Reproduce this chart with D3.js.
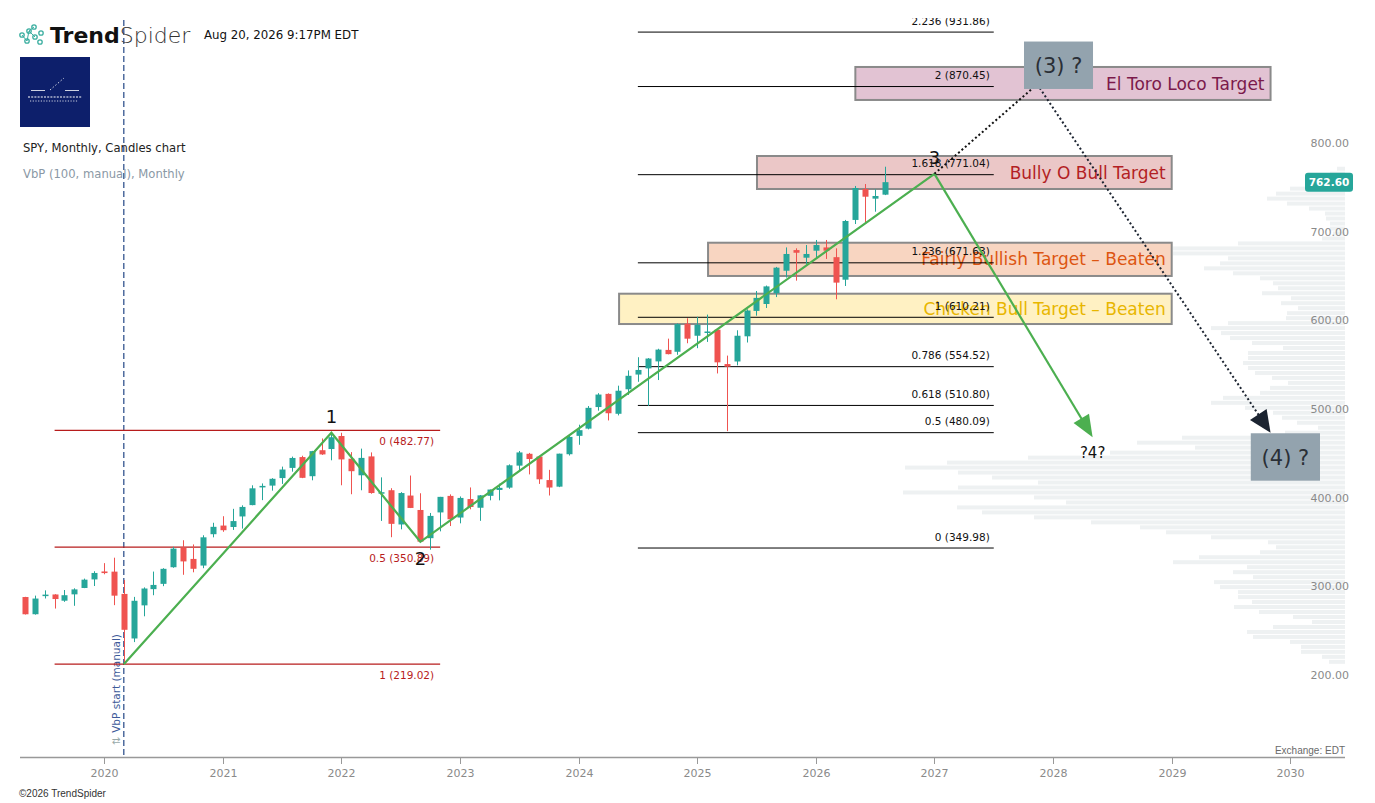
<!DOCTYPE html>
<html><head><meta charset="utf-8">
<script src="https://cdn.jsdelivr.net/npm/d3@7"></script>
<style>html,body{margin:0;padding:0;background:#fff;}svg{display:block;font-family:"DejaVu Sans",sans-serif;}</style>
</head><body>
<svg id="c" width="1375" height="803"></svg>
<script>
// ---------------- DATA ----------------
const months = [
"2019-05","2019-06","2019-07","2019-08","2019-09","2019-10","2019-11","2019-12",
"2020-01","2020-02","2020-03","2020-04","2020-05","2020-06","2020-07","2020-08","2020-09","2020-10","2020-11","2020-12",
"2021-01","2021-02","2021-03","2021-04","2021-05","2021-06","2021-07","2021-08","2021-09","2021-10","2021-11","2021-12",
"2022-01","2022-02","2022-03","2022-04","2022-05","2022-06","2022-07","2022-08","2022-09","2022-10","2022-11","2022-12",
"2023-01","2023-02","2023-03","2023-04","2023-05","2023-06","2023-07","2023-08","2023-09","2023-10","2023-11","2023-12",
"2024-01","2024-02","2024-03","2024-04","2024-05","2024-06","2024-07","2024-08","2024-09","2024-10","2024-11","2024-12",
"2025-01","2025-02","2025-03","2025-04","2025-05","2025-06","2025-07","2025-08","2025-09","2025-10","2025-11","2025-12",
"2026-01","2026-02","2026-03","2026-04","2026-05","2026-06","2026-07","2026-08"];
const open = [
294.72,275.31,296.68,297.60,290.57,297.74,304.92,314.59,
323.54,323.35,298.21,247.98,285.31,303.62,309.57,328.32,350.35,337.69,330.20,365.57,
375.31,373.72,385.59,398.40,419.43,420.37,428.87,440.34,452.56,430.98,460.30,461.64,
476.30,450.68,432.03,453.31,412.07,415.17,376.56,409.15,392.89,361.08,390.14,408.77,
384.37,405.21,395.41,408.85,415.47,418.09,442.92,456.27,453.17,426.62,419.20,455.77,
476.49,484.63,508.98,523.83,501.38,529.02,545.63,552.57,560.47,573.40,571.32,602.97,
589.39,592.67,596.18,557.45,560.37,588.76,617.38,625.20,637.30,662.70,686.00,677.40,
685.30,689.00,678.00,652.60,720.00,754.90,744.00,748.50];
const high = [
294.95,296.31,302.23,297.90,302.63,304.55,315.48,323.80,
332.95,339.08,313.84,294.88,305.59,323.41,327.23,351.30,358.75,354.02,364.38,378.46,
385.85,394.17,398.12,420.72,422.82,428.78,441.80,453.07,454.05,459.56,473.54,478.81,
479.98,458.12,462.07,457.83,429.66,417.44,413.03,431.73,411.73,389.52,407.68,410.49,
408.16,418.31,409.70,415.94,422.58,444.30,459.44,457.25,453.67,438.14,456.40,477.55,
489.08,510.13,524.61,524.38,533.07,550.28,565.16,564.20,574.71,586.12,603.35,609.07,
610.78,613.23,597.34,567.00,595.54,619.22,639.84,646.00,667.00,689.00,688.00,691.70,
697.40,697.40,688.00,720.00,758.30,760.50,754.50,780.00];
const low = [
275.00,274.86,293.08,281.72,289.27,284.82,304.74,307.13,
320.36,285.54,218.26,243.90,272.99,296.74,306.96,327.73,319.80,322.60,327.24,362.03,
368.27,370.38,371.88,398.18,404.00,414.70,422.28,436.10,428.78,426.36,455.00,448.92,
420.76,410.64,415.12,411.21,380.54,362.17,371.04,395.04,357.04,348.11,368.79,374.77,
377.83,393.64,380.65,403.78,403.74,416.79,437.06,433.01,422.29,409.21,418.65,454.31,
466.43,483.80,504.91,493.86,499.55,522.60,537.45,510.27,539.44,568.40,567.89,580.91,
575.35,582.44,546.87,481.80,556.04,581.77,612.00,620.70,633.00,655.00,651.50,670.00,
676.70,676.00,630.50,645.50,715.40,716.90,729.30,748.00];
const close = [
275.27,293.00,297.43,292.45,296.77,303.33,314.31,321.86,
321.73,296.26,257.75,290.48,304.32,308.36,326.52,349.31,334.89,326.54,362.06,373.88,
370.07,380.36,396.33,417.30,420.04,428.06,438.51,451.56,429.14,459.25,455.56,474.96,
449.91,436.63,451.64,412.00,412.93,377.25,411.99,395.18,357.18,386.21,407.68,382.43,
406.48,396.26,409.39,415.93,417.85,443.28,457.79,450.35,427.48,418.20,456.40,475.31,
482.88,508.08,523.07,501.98,527.37,544.22,550.81,563.68,573.76,568.64,602.55,586.08,
601.82,594.18,559.39,554.54,589.39,617.85,632.08,645.05,666.18,681.60,683.00,681.60,
691.70,685.30,649.30,718.80,756.00,746.20,747.00,762.60];

// Volume-by-price (100 bins, bottom -> top)
const vbpLow = 218.26, vbpHigh = 780.0;
const vbpVolume = [
16,23,44,44,55,92,98,72,33,52,86,111,93,107,107,125,131,92,112,98,
172,146,85,69,77,134,179,205,254,311,363,388,279,311,442,387,307,353,387,440,
398,317,235,150,208,163,60,27,48,63,72,100,134,122,85,75,57,73,90,97,
102,97,97,62,93,115,124,134,117,59,58,47,64,54,83,67,72,85,112,141,
125,117,172,172,107,23,12,15,15,19,20,36,58,78,69,55,40,30,15,8];

// Axis ticks
const yearTicks = ["2020-01","2021-01","2022-01","2023-01","2024-01","2025-01","2026-01","2027-01","2028-01","2029-01","2030-01"];
const yearLabels = ["2020","2021","2022","2023","2024","2025","2026","2027","2028","2029","2030"];
const priceTicks = [200,300,400,500,600,700,800];

// Fibonacci (black, right)
const fibLevels = ["0","0.5","0.618","0.786","1","1.236","1.618","2","2.236"];
const fibPrices = [349.98,480.09,510.80,554.52,610.21,671.63,771.04,870.45,931.86];
const fibFrom = "2024-07", fibTo = "2027-07";
// Fibonacci (red, left)
const redFibLevels = ["0","0.5","1"];
const redFibPrices = [482.77,350.89,219.02];
const redFibFrom = "2019-08", redFibTo = "2022-11";

// Target zones
const targetNames = ["El Toro Loco Target","Bully O Bull Target","Fairly Bullish Target – Beaten","Chicken Bull Target – Beaten"];
const targetStart = [76.0,66.05,61.1,52.1];
const targetEnd = [118.0,108.0,108.0,108.0];
const targetTop = [892.5,792.1,694.3,636.8];
const targetBottom = [855.3,754.9,656.8,602.6];

// Elliott wave path (month index, price)
const waveM = [2,23,32,84];
const waveP = [219.02,480,357,772];
const waveNames = ["","1","2","3"];
const waveArrowEnd = [100,475];
const altPathM = [84,94.4,118];
const altPathP = [772,873,480];
const qBoxes = [{t:"(3) ?",m0:93.06,m1:100.04,p0:921.2,p1:867.7},{t:"(4) ?",m0:116.0,m1:123.0,p0:479.4,p1:425.9}];
const q4Label = {t:"?4?",m:100,p:458};
const vbpStart = "2020-03";
const lastPrice = 762.60;

// ---------------- STYLES ----------------
const C = {up:"#26a69a", down:"#ef5350", vbp:"#eef1f2", wave:"#4caf50", red:"#b71c1c",
  axis:"#999", tick:"#8a8a8a", boxStroke:"#8a8a8a",
  tFill:["#e2c3d3","#ebc7c7","#f8d5c1","#fff1c3"], tText:["#7b1a4b","#b31f24","#dd5511","#e8b600"]};

// ---------------- CHART ----------------
const mIdx = s => { const [yy,mo]=s.split("-").map(Number); return (yy-2020)*12+mo-1; };
const x = d3.scaleLinear().domain([-8.5,125.53]).range([20,1345]);
const y = d3.scaleLinear().domain([114.3,968.04]).range([757,0]);
const svg = d3.select("#c");

svg.append("defs").append("clipPath").attr("id","plot").append("rect")
  .attr("x",0).attr("y",18).attr("width",1375).attr("height",757-18);
const plot = svg.append("g").attr("clip-path","url(#plot)");

// Volume profile
const step = (vbpHigh-vbpLow)/vbpVolume.length;
const vx = d3.scaleLinear().domain([0,442]).range([0,442]);
plot.append("g").selectAll("rect").data(vbpVolume).join("rect")
  .attr("x",d=>1345-vx(d)).attr("width",d=>vx(d))
  .attr("y",(d,i)=>y(vbpLow+(i+1)*step))
  .attr("height",(d,i)=>Math.max(1,y(vbpLow+i*step)-y(vbpLow+(i+1)*step)-1))
  .attr("fill",C.vbp);

// VbP start line
plot.append("line").attr("x1",x(mIdx(vbpStart))).attr("x2",x(mIdx(vbpStart)))
  .attr("y1",20).attr("y2",757).attr("stroke","#34558f").attr("stroke-width",1.3).attr("stroke-dasharray","6,3");
const vt = plot.append("text").attr("transform",`translate(${x(mIdx(vbpStart))-4},745) rotate(-90)`)
  .attr("font-size",10.5).attr("fill","#3d5a99");
vt.append("tspan").attr("fill","#9aa").text("⇅ ");
vt.append("tspan").text("VbP start (manual)");

// Target zones
const tg = plot.append("g");
targetNames.forEach((n,i)=>{
  const x0=x(targetStart[i]), x1=x(targetEnd[i]), y0=y(targetTop[i]), y1=y(targetBottom[i]);
  tg.append("rect").attr("x",x0).attr("y",y0).attr("width",x1-x0).attr("height",y1-y0)
    .attr("fill",C.tFill[i]).attr("stroke",C.boxStroke).attr("stroke-width",2);
  tg.append("text").attr("x",x1-6).attr("y",(y0+y1)/2).attr("dy","0.36em")
    .attr("text-anchor","end").attr("font-size",17).attr("fill",C.tText[i]).text(n);
});

// Fib lines (black)
const fg = plot.append("g");
fibPrices.forEach((p,i)=>{
  fg.append("line").attr("x1",x(mIdx(fibFrom))).attr("x2",x(mIdx(fibTo))).attr("y1",y(p)).attr("y2",y(p))
    .attr("stroke","#000").attr("stroke-width",1);
  fg.append("text").attr("x",x(mIdx(fibTo))-4).attr("y",y(p)-7.5).attr("text-anchor","end")
    .attr("font-size",10.5).attr("fill","#111").text(`${fibLevels[i]} (${p.toFixed(2)})`);
});
// Fib lines (red)
redFibPrices.forEach((p,i)=>{
  fg.append("line").attr("x1",x(mIdx(redFibFrom))).attr("x2",x(mIdx(redFibTo))).attr("y1",y(p)).attr("y2",y(p))
    .attr("stroke",C.red).attr("stroke-width",1.2);
  fg.append("text").attr("x",x(mIdx(redFibTo))-6).attr("y",y(p)+15).attr("text-anchor","end")
    .attr("font-size",10.5).attr("fill",C.red).text(`${redFibLevels[i]} (${p.toFixed(2)})`);
});

// Candles
const cg = plot.append("g");
const candles = months.map((m,i)=>({m:mIdx(m),o:open[i],h:high[i],l:low[i],c:close[i]}));
cg.selectAll("line").data(candles).join("line")
  .attr("x1",d=>Math.round(x(d.m))+0.5).attr("x2",d=>Math.round(x(d.m))+0.5)
  .attr("y1",d=>y(d.h)).attr("y2",d=>y(d.l))
  .attr("stroke",d=>d.c>=d.o?C.up:C.down).attr("stroke-width",1);
cg.selectAll("rect").data(candles).join("rect")
  .attr("x",d=>Math.round(x(d.m))-2.5).attr("width",6)
  .attr("y",d=>y(Math.max(d.o,d.c)))
  .attr("height",d=>Math.max(1.5,Math.abs(y(d.o)-y(d.c))))
  .attr("fill",d=>d.c>=d.o?C.up:C.down);

// Wave path
const line = d3.line().x(d=>x(d[0])).y(d=>y(d[1]));
const wpts = waveM.map((m,i)=>[m,waveP[i]]);
plot.append("path").attr("d",line(wpts)).attr("fill","none").attr("stroke",C.wave).attr("stroke-width",2.2);
function arrow(from,to,color,len,wid,dash){
  const x0=x(from[0]),y0=y(from[1]),x1=x(to[0]),y1=y(to[1]);
  const a=Math.atan2(y1-y0,x1-x0);
  const bx=x1-len*Math.cos(a), by=y1-len*Math.sin(a);
  plot.append("line").attr("x1",x0).attr("y1",y0).attr("x2",bx+2*Math.cos(a)).attr("y2",by+2*Math.sin(a))
    .attr("stroke",color).attr("stroke-width",dash?2:2.2).attr("stroke-dasharray",dash||null);
  const px=-Math.sin(a)*wid/2, py=Math.cos(a)*wid/2;
  plot.append("path").attr("d",`M${x1},${y1}L${bx+px},${by+py}L${bx-px},${by-py}Z`).attr("fill",color);
}
arrow(wpts[3],waveArrowEnd,C.wave,22,18,null);

// Alternate dotted path
plot.append("line").attr("x1",x(altPathM[0])).attr("y1",y(altPathP[0])).attr("x2",x(altPathM[1])).attr("y2",y(altPathP[1]))
  .attr("stroke","#111").attr("stroke-width",2).attr("stroke-dasharray","2,2.5");
arrow([altPathM[1],altPathP[1]],[altPathM[2],altPathP[2]],"#1c2431",22,20,"2,2.5");

// Question boxes
qBoxes.forEach(b=>{
  const x0=x(b.m0),x1=x(b.m1),y0=y(b.p0),y1=y(b.p1);
  plot.append("rect").attr("x",x0).attr("y",y0).attr("width",x1-x0).attr("height",y1-y0).attr("fill","#93a3ae");
  plot.append("text").attr("x",(x0+x1)/2).attr("y",(y0+y1)/2).attr("dy","0.36em").attr("text-anchor","middle")
    .attr("font-size",21).attr("fill","#2a2f36").text(b.t);
});
plot.append("text").attr("x",x(q4Label.m)).attr("y",y(q4Label.p)).attr("dy","0.36em").attr("text-anchor","middle")
  .attr("font-size",15).attr("fill","#111").text(q4Label.t);

// Wave labels
wpts.forEach((p,i)=>{
  if(!waveNames[i]) return;
  const above = i!==2;
  plot.append("text").attr("x",x(p[0])).attr("y",y(p[1])+(above?-16:17)).attr("dy","0.36em")
    .attr("text-anchor","middle").attr("font-size",18).attr("fill","#111").text(waveNames[i]);
});

// X axis
svg.append("line").attr("x1",20).attr("x2",1345).attr("y1",757.5).attr("y2",757.5).attr("stroke",C.axis).attr("stroke-width",1.5);
yearTicks.forEach((t,i)=>{
  const xx=Math.round(x(mIdx(t)))+0.5;
  svg.append("line").attr("x1",xx).attr("x2",xx).attr("y1",757).attr("y2",764).attr("stroke",C.axis);
  svg.append("text").attr("x",xx).attr("y",777).attr("text-anchor","middle").attr("font-size",11).attr("fill",C.tick).text(yearLabels[i]);
});
// Y axis labels
priceTicks.forEach(p=>{
  svg.append("text").attr("x",1349).attr("y",y(p)-6).attr("dy","0.36em").attr("text-anchor","end")
    .attr("font-size",11).attr("fill",C.tick).text(p.toFixed(2));
});
// Last price tag
svg.append("rect").attr("x",1305).attr("y",y(lastPrice)-9.5).attr("width",48).attr("height",19).attr("rx",3).attr("fill",C.up);
svg.append("text").attr("x",1329).attr("y",y(lastPrice)).attr("dy","0.36em").attr("text-anchor","middle")
  .attr("font-size",10.5).attr("font-weight","bold").attr("fill","#fff").text(lastPrice.toFixed(2));

svg.append("text").attr("x",1345).attr("y",754).attr("text-anchor","end").attr("font-size",10)
  .attr("font-family","Liberation Sans, sans-serif").attr("fill","#6a6a6a").text("Exchange: EDT");
svg.append("text").attr("x",19).attr("y",797).attr("font-size",10)
  .attr("font-family","Liberation Sans, sans-serif").attr("fill","#333").text("©2026 TrendSpider");

// Header
const logo = svg.append("g").attr("stroke","#3aaea0").attr("fill","none").attr("stroke-width",1.3);
[[22,35],[27,41],[29,31],[34,27],[35,37],[41,33],[40,42]].forEach(c=>logo.append("circle").attr("cx",c[0]).attr("cy",c[1]).attr("r",2.2));
[[[22,35],[27,41]],[[27,41],[29,31]],[[29,31],[34,27]],[[29,31],[35,37]]].forEach(l=>logo.append("line")
  .attr("x1",l[0][0]).attr("y1",l[0][1]).attr("x2",l[1][0]).attr("y2",l[1][1]).attr("stroke-width",1));
const brand = svg.append("text").attr("x",50).attr("y",43).attr("font-size",22).attr("fill","#111");
brand.append("tspan").attr("font-weight","bold").text("Trend");
brand.append("tspan").attr("font-weight","200").attr("fill","#333").text("Spider");
svg.append("text").attr("x",204).attr("y",39).attr("font-size",11.8).attr("fill","#111").text("Aug 20, 2026 9:17PM EDT");

svg.append("rect").attr("x",20).attr("y",57).attr("width",70).attr("height",70).attr("fill","#0d1f6b");
const lg = svg.append("g").attr("stroke","#fff").attr("stroke-width",0.8);
lg.append("line").attr("x1",31).attr("x2",45).attr("y1",90.5).attr("y2",90.5);
lg.append("line").attr("x1",65).attr("x2",79).attr("y1",90.5).attr("y2",90.5);
lg.append("line").attr("x1",50).attr("x2",64).attr("y1",90).attr("y2",78).attr("stroke-dasharray","1.5,2");
lg.append("line").attr("x1",28).attr("x2",82).attr("y1",97).attr("y2",97).attr("stroke-dasharray","2,1.2").attr("stroke-width",1.2);
lg.append("line").attr("x1",30).attr("x2",78).attr("y1",101).attr("y2",101).attr("stroke-dasharray","1.2,1.5").attr("stroke-width",0.8);

svg.append("text").attr("x",23).attr("y",152).attr("font-size",11.6).attr("fill","#222").text("SPY, Monthly, Candles chart");
svg.append("text").attr("x",23).attr("y",178).attr("font-size",11.6).attr("fill","#8a98a5").text("VbP (100, manual), Monthly");
</script>
</body></html>
